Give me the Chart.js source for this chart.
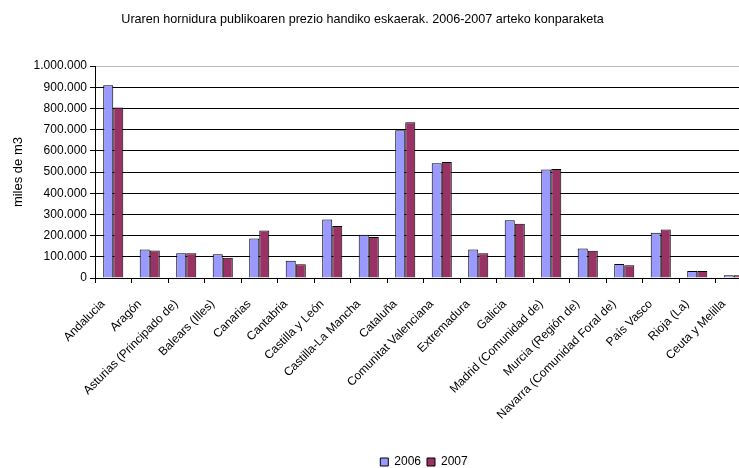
<!DOCTYPE html>
<html>
<head>
<meta charset="utf-8">
<script src="https://cdn.jsdelivr.net/npm/chart.js"></script>
<style>
  html, body { margin: 0; padding: 0; background: #fff; overflow: hidden; }
  #wrap { width: 752px; height: 468px; }
</style>
</head>
<body>
<div id="wrap"><canvas id="myChart" width="752" height="468"></canvas></div>
<script>
// datos
const categories = [
    'Andalucia', 'Aragón', 'Asturias (Principado de)', 'Balears (Illes)', 'Canarias',
    'Cantabria', 'Castilla y León', 'Castilla-La Mancha', 'Cataluña', 'Comunitat Valenciana',
    'Extremadura', 'Galicia', 'Madrid (Comunidad de)', 'Murcia (Región de)',
    'Navarra (Comunidad Foral de)', 'País Vasco', 'Rioja (La)', 'Ceuta y Melilla'
];
const values2006 = [910000, 134000, 117000, 112000, 186000, 81000, 276000, 204000, 697000,
    542000, 134000, 272000, 512000, 139000, 66000, 213000, 33000, 13000];
const values2007 = [805000, 130000, 117000, 96000, 224000, 65000, 246000, 194000, 735000,
    548000, 117000, 256000, 515000, 129000, 60000, 229000, 33000, 13000];
const seriesLabels = ['2006', '2007'];
const yMax = 1000000;
const yStep = 100000;

const titleText = 'Uraren hornidura publikoaren prezio handiko eskaerak. 2006-2007 arteko konparaketa';
const yTitle = 'miles de m3';

// 1.000.000 format
const formatThousands = (v) => String(v).replace(/\B(?=(\d{3})+(?!\d))/g, '.');

// title and legend are not centred in the original
const shiftBoxes = {
    id: 'shiftBoxes',
    afterLayout(chart) {
        chart.titleBlock.right -= 27;
        chart.legend.left += 96;
    }
};

Chart.defaults.font.family = '"Liberation Sans", Arial, sans-serif';
Chart.defaults.color = '#000';

const ctx = document.getElementById('myChart').getContext('2d');
new Chart(ctx, {
    type: 'bar',
    data: {
        labels: categories,
        datasets: [
            {
                label: seriesLabels[0],
                data: values2006,
                backgroundColor: '#9999FF',
                borderColor: '#000',
                borderWidth: 1,
            },
            {
                label: seriesLabels[1],
                data: values2007,
                backgroundColor: '#993366',
                borderColor: '#000',
                borderWidth: 1,
            },
        ],
    },
    options: {
        responsive: false,
        animation: false,
        layout: { padding: { left: 0, right: 0, top: 0, bottom: -10 } },
        datasets: {
            bar: { categoryPercentage: 0.55, barPercentage: 1 },
        },
        plugins: {
            title: {
                display: true,
                text: titleText,
                font: { size: 12.6, weight: 'normal' },
                color: '#000',
                padding: { top: 12, bottom: 39 },
            },
            legend: {
                position: 'bottom',
                labels: {
                    boxWidth: 8,
                    boxHeight: 8,
                    padding: 6,
                    font: { size: 12 },
                    color: '#000',
                },
            },
            tooltip: { enabled: false },
        },
        scales: {
            x: {
                grid: {
                    offset: true,
                    drawOnChartArea: false,
                    drawTicks: true,
                    tickLength: 5,
                    tickColor: '#000',
                },
                border: { color: '#000' },
                ticks: {
                    autoSkip: false,
                    maxRotation: 45,
                    minRotation: 45,
                    padding: 14,
                    labelOffset: -10,
                    font: { size: 12 },
                    color: '#000',
                },
                afterFit: (scale) => {
                    scale.height = 172;
                    // the plot runs off the right edge in the original
                    scale.paddingLeft = 0;
                    scale.paddingRight = 0;
                },
            },
            y: {
                min: 0,
                max: yMax,
                ticks: {
                    stepSize: yStep,
                    padding: 3,
                    font: { size: 12 },
                    color: '#000',
                    callback: (v) => formatThousands(v),
                },
                grid: {
                    color: (c) => (c.tick && c.tick.value === yMax ? '#bbb' : '#000'),
                    tickColor: '#000',
                    tickLength: 5,
                },
                border: { color: '#000' },
                title: {
                    display: true,
                    text: yTitle,
                    font: { size: 13 },
                    color: '#000',
                    padding: { top: 11, bottom: 0 },
                },
                afterFit: (scale) => { scale.width = 95; },
            },
        },
    },
    plugins: [shiftBoxes],
});
</script>
</body>
</html>
